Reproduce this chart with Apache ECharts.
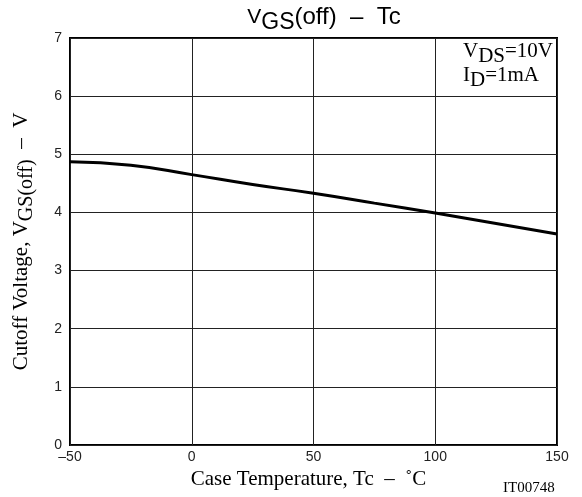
<!DOCTYPE html>
<html>
<head>
<meta charset="utf-8">
<script src="https://cdn.jsdelivr.net/npm/echarts@6/dist/echarts.min.js"></script>
<style>
  html, body { margin: 0; padding: 0; background: #fff; }
  #chart { width: 582px; height: 497px; }
</style>
</head>
<body>
<div id="chart"></div>
<script>
// Tc (°C) vs VGS(off) (V)
const temps = [-50, -25, 0, 25, 50, 75, 100, 125, 150]
const vgsOff = [4.87, 4.81, 4.65, 4.48, 4.33, 4.16, 3.99, 3.81, 3.63]

const serif = '"Liberation Serif", "Times New Roman", serif'
const sans = '"Liberation Sans", Arial, sans-serif'

let myChart = echarts.init(document.getElementById('chart'))
let option = {
  animation: false,
  title: {
    text: '{v|V}{s|GS}{a|(off)  –  Tc}',
    left: 319,
    textAlign: 'center',
    top: 0,
    textStyle: {
      fontWeight: 'normal',
      rich: {
        v: { fontFamily: sans, fontSize: 21, fontWeight: 'normal', color: '#000', verticalAlign: 'top', lineHeight: 32, padding: [2, 0, 0, 0] },
        a: { fontFamily: sans, fontSize: 24, fontWeight: 'normal', color: '#000', verticalAlign: 'top', lineHeight: 32 },
        s: { fontFamily: sans, fontSize: 23, fontWeight: 'normal', color: '#000', verticalAlign: 'top', lineHeight: 32, padding: [6, 0, 0, 0] }
      }
    }
  },
  grid: {
    left: 70,
    right: 25,
    top: 38,
    bottom: 52,
    outerBoundsMode: 'none',
    containLabel: false,
    show: true,
    borderColor: '#000',
    borderWidth: 2,
    backgroundColor: 'transparent'
  },
  xAxis: {
    type: 'value',
    min: -50,
    max: 150,
    interval: 50,
    name: 'Case Temperature, Tc  –  ˚C',
    nameLocation: 'middle',
    nameGap: 23,
    nameTextStyle: { fontFamily: serif, fontSize: 21, color: '#000', padding: [0, 10, 0, 0] },
    axisLine: { show: false },
    axisTick: { show: false },
    axisLabel: {
      fontFamily: sans, fontSize: 14, color: '#222', margin: 5,
      formatter: v => String(v).replace('-', '–')
    },
    splitLine: { show: true, lineStyle: { color: '#222', width: 1 } }
  },
  yAxis: {
    type: 'value',
    min: 0,
    max: 7,
    interval: 1,
    name: '{a|Cutoff Voltage, V}{s|GS(off)}{a|  –  V}',
    nameLocation: 'middle',
    nameGap: 31,
    nameTextStyle: {
      rich: {
        a: { fontFamily: serif, fontSize: 21, color: '#000', verticalAlign: 'top', lineHeight: 28 },
        s: { fontFamily: serif, fontSize: 20, color: '#000', verticalAlign: 'top', lineHeight: 28, padding: [6, 0, 0, 0] }
      }
    },
    axisLine: { show: false },
    axisTick: { show: false },
    axisLabel: { fontFamily: sans, fontSize: 14, color: '#222', margin: 8 },
    splitLine: { show: true, lineStyle: { color: '#222', width: 1 } }
  },
  graphic: [
    {
      type: 'text',
      left: 463,
      top: 41,
      style: {
        text: '{a|V}{s|DS}{a|=10V}\n{a|I}{s|D}{a|=1mA}',
        rich: {
          a: { fontFamily: serif, fontSize: 21, fill: '#000', verticalAlign: 'top', lineHeight: 24 },
          s: { fontFamily: serif, fontSize: 21, fill: '#000', verticalAlign: 'top', lineHeight: 24, padding: [5, 0, 0, 0] }
        }
      }
    },
    {
      type: 'text',
      left: 503,
      top: 481,
      style: { text: 'IT00748', font: '15px ' + serif, fill: '#000' }
    }
  ],
  series: [
    {
      type: 'line',
      data: temps.map((t, i) => [t, vgsOff[i]]),
      smooth: true,
      symbol: 'none',
      lineStyle: { color: '#000', width: 3 }
    }
  ]
}
myChart.setOption(option)
</script>
</body>
</html>
